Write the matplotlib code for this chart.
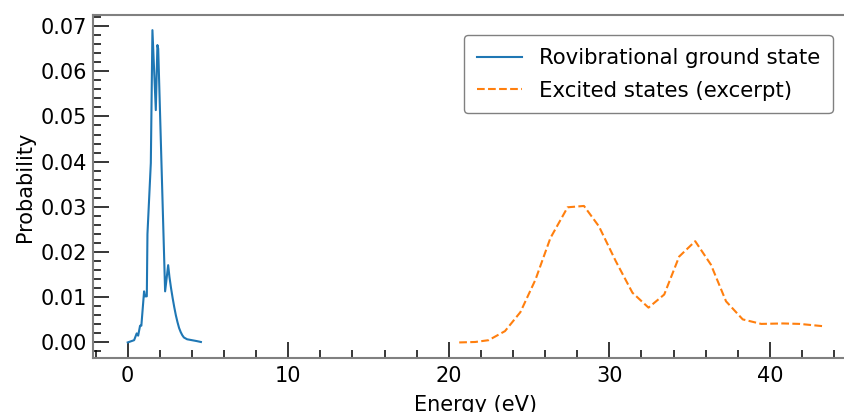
import matplotlib
matplotlib.use("Agg")
import matplotlib.pyplot as plt
from matplotlib.ticker import MultipleLocator

# ground state distribution
ground_energy = [0.0, 0.4, 0.56, 0.65, 0.77, 0.85, 1.02, 1.08, 1.19, 1.23, 1.44, 1.54,
                 1.75, 1.85, 1.9, 2.33, 2.52, 2.6, 2.7, 2.8, 2.9, 3.0, 3.1, 3.2, 3.3,
                 3.4, 3.5, 3.7, 4.0, 4.3, 4.56]
ground_prob = [0.0, 0.0005, 0.002, 0.0015, 0.0037, 0.0037, 0.0113, 0.0102, 0.0102, 0.024,
               0.0397, 0.0691, 0.0514, 0.0658, 0.065, 0.0113, 0.0171, 0.0145, 0.012,
               0.0098, 0.0078, 0.006, 0.0045, 0.0032, 0.0023, 0.0016, 0.0011, 0.0007,
               0.0005, 0.0003, 0.0001]

# excited states excerpt
excited_energy = [20.65, 21.65, 22.48, 23.5, 24.46, 25.4, 26.33, 27.4, 28.42, 29.35, 30.4,
                  31.44, 32.44, 33.42, 34.35, 35.35, 36.33, 37.27, 38.31, 39.46, 40.81,
                  41.85, 43.3]
excited_prob = [0.0, 0.0001, 0.0005, 0.0025, 0.0067, 0.0139, 0.0231, 0.0299, 0.0302, 0.0257,
                0.018, 0.011, 0.0077, 0.0106, 0.019, 0.0224, 0.0172, 0.0091, 0.0051,
                0.0041, 0.0042, 0.0041, 0.0036]

FS = 15

fig = plt.figure(figsize=(8.45, 4.12), dpi=100)
# axes run past the right edge, as in the cropped original
ax = fig.add_axes([0.110, 0.131, 0.905, 0.8326])

ax.plot(ground_energy, ground_prob, color="#1f77b4", lw=1.5, label="Rovibrational ground state")
ax.plot(excited_energy, excited_prob, color="#ff7f0e", lw=1.5, ls="--", label="Excited states (excerpt)")

ax.set_xlim(-2.165, 45.47)
ax.set_ylim(-0.00345, 0.07245)
ax.xaxis.set_major_locator(MultipleLocator(10))
ax.xaxis.set_minor_locator(MultipleLocator(2))
ax.yaxis.set_major_locator(MultipleLocator(0.01))
ax.yaxis.set_minor_locator(MultipleLocator(0.002))
ax.tick_params(which="major", direction="in", length=11.5, width=1.1, color="black",
               labelsize=FS)
ax.tick_params(which="minor", direction="in", length=5.5, width=1.1, color="black")
ax.tick_params(axis="x", which="major", pad=6)
ax.tick_params(axis="y", which="major", pad=4)

for sp in ax.spines.values():
    sp.set_color("gray")
    sp.set_linewidth(1.5)

ax.set_xlabel("Energy (eV)", fontsize=FS, labelpad=6)
ax.set_ylabel("Probability", fontsize=FS, labelpad=4)
ax.legend(loc="upper right", bbox_to_anchor=(0.981, 0.972), fontsize=15.3,
          labelspacing=0.6, borderpad=0.6, handlelength=2.1,
          edgecolor="gray", framealpha=1)

fig.savefig("out.png", dpi=100)
plt.close(fig)
